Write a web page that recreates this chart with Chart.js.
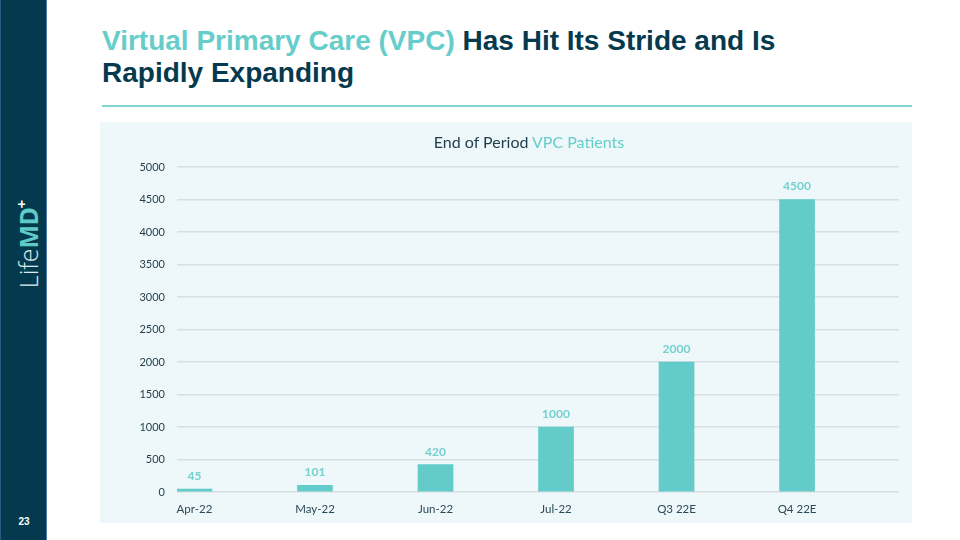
<!DOCTYPE html>
<html>
<head>
<meta charset="utf-8">
<script src="https://cdn.jsdelivr.net/npm/chart.js@4.4.1/dist/chart.umd.min.js"></script>
<style>
  html, body { margin:0; padding:0; background:#ffffff; }
  #slide { position:relative; width:960px; height:540px; overflow:hidden; background:#fff; }
  #sidebar { position:absolute; left:0; top:0; width:47px; height:540px; background:#053a4e; border-right:1px solid #4a78a8; border-left:1px solid #2a5a80; box-sizing:border-box; }
  #logo { position:absolute; left:24px; top:244px; transform:translate(-50%,-50%) rotate(-90deg); white-space:nowrap; font-family:"Open Sans", Lato, sans-serif; font-size:25px; line-height:25px; }
  #logo .life { color:#d9eef0; font-weight:300; }
  #logo .md { color:#5fcac6; font-weight:700; letter-spacing:-0.5px; }
  #logo sup { color:#ffffff; font-size:15px; font-weight:700; vertical-align:11px; margin-left:-1px; }
  #pagenum { position:absolute; left:0; width:46px; top:516px; text-align:center; color:#ffffff; font-family:"Liberation Sans", Arial, sans-serif; font-weight:700; font-size:10px; }
  #title { position:absolute; left:102px; top:25px; font-family:"Liberation Sans", Arial, sans-serif; font-weight:700; font-size:28px; line-height:32px; color:#053a4e; }
  #title .hl { color:#66cdcb; }
  #rule { position:absolute; left:102px; top:105px; width:810px; height:2px; background:#7fd5d0; }
  #panel { position:absolute; left:100px; top:122px; width:812px; height:401px; background:#eef7f9; }
  #ctitle { position:absolute; left:0; width:858px; top:10px; text-align:center; font-family:Lato, sans-serif; font-size:16px; color:#1f3c4a; }
  #ctitle .hl { color:#66cdcb; }
  #chartwrap { position:absolute; left:0; top:0; width:812px; height:401px; }
</style>
</head>
<body>
<div id="slide">
  <div id="sidebar">
    <div id="logo"><span class="life">Life</span><span class="md">MD</span><sup>+</sup></div>
    <div id="pagenum">23</div>
  </div>
  <div id="title"><span class="hl">Virtual Primary Care (VPC)</span> Has Hit Its Stride and Is<br>Rapidly Expanding</div>
  <div id="rule"></div>
  <div id="panel">
    <div id="chartwrap"><canvas id="c" width="812" height="401"></canvas></div>
    <div id="ctitle">End of Period <span class="hl">VPC Patients</span></div>
  </div>
</div>
<script>
const categories = ["Apr-22", "May-22", "Jun-22", "Jul-22", "Q3 22E", "Q4 22E"];
const patients = [45, 101, 420, 1000, 2000, 4500];
const yTicks = [0, 500, 1000, 1500, 2000, 2500, 3000, 3500, 4000, 4500, 5000];

const points = categories.map((c, i) => ({ x: i, y: patients[i] }));

const valueLabels = {
  id: 'valueLabels',
  afterDatasetsDraw(chart) {
    const ctx = chart.ctx;
    const meta = chart.getDatasetMeta(0);
    ctx.save();
    ctx.font = '700 12px Lato, sans-serif';
    ctx.fillStyle = '#74d1cf';
    ctx.textAlign = 'center';
    ctx.textBaseline = 'middle';
    meta.data.forEach((el, i) => {
      ctx.fillText(String(patients[i]), el.x, el.y - 13);
    });
    ctx.restore();
  }
};

new Chart(document.getElementById('c'), {
  type: 'bar',
  data: {
    datasets: [{
      data: points,
      backgroundColor: '#63cbc9',
      borderWidth: 0,
      barThickness: 35
    }]
  },
  options: {
    responsive: false,
    animation: false,
    layout: { padding: { top: 45, right: 13, left: 0, bottom: 0 } },
    plugins: { legend: { display: false }, tooltip: { enabled: false }, title: { display: false } },
    scales: {
      x: {
        type: 'linear',
        offset: false,
        min: -0.145,
        max: 5.846,
        grid: { display: false, drawTicks: false, offset: false },
        border: { display: false },
        afterBuildTicks(scale) { scale.ticks = categories.map((_, i) => ({ value: i })); },
        afterFit(scale) { scale.height = 31; },
        ticks: {
          padding: 10,
          color: '#2a4a58',
          font: { family: 'Lato', size: 11.5 },
          maxRotation: 0,
          autoSkip: false,
          callback: (v) => categories[v]
        }
      },
      y: {
        min: 0,
        max: 5000,
        afterBuildTicks(scale) { scale.ticks = yTicks.map(v => ({ value: v })); },
        afterFit(scale) { scale.width = 77; },
        grid: { color: '#d7dfe1', lineWidth: 1.5, drawTicks: false },
        border: { display: false },
        ticks: {
          padding: 12,
          color: '#1f3c4a',
          font: { family: 'Lato', size: 11 },
          callback: (v) => String(v)
        }
      }
    }
  },
  plugins: [valueLabels]
});
</script>
</body>
</html>
